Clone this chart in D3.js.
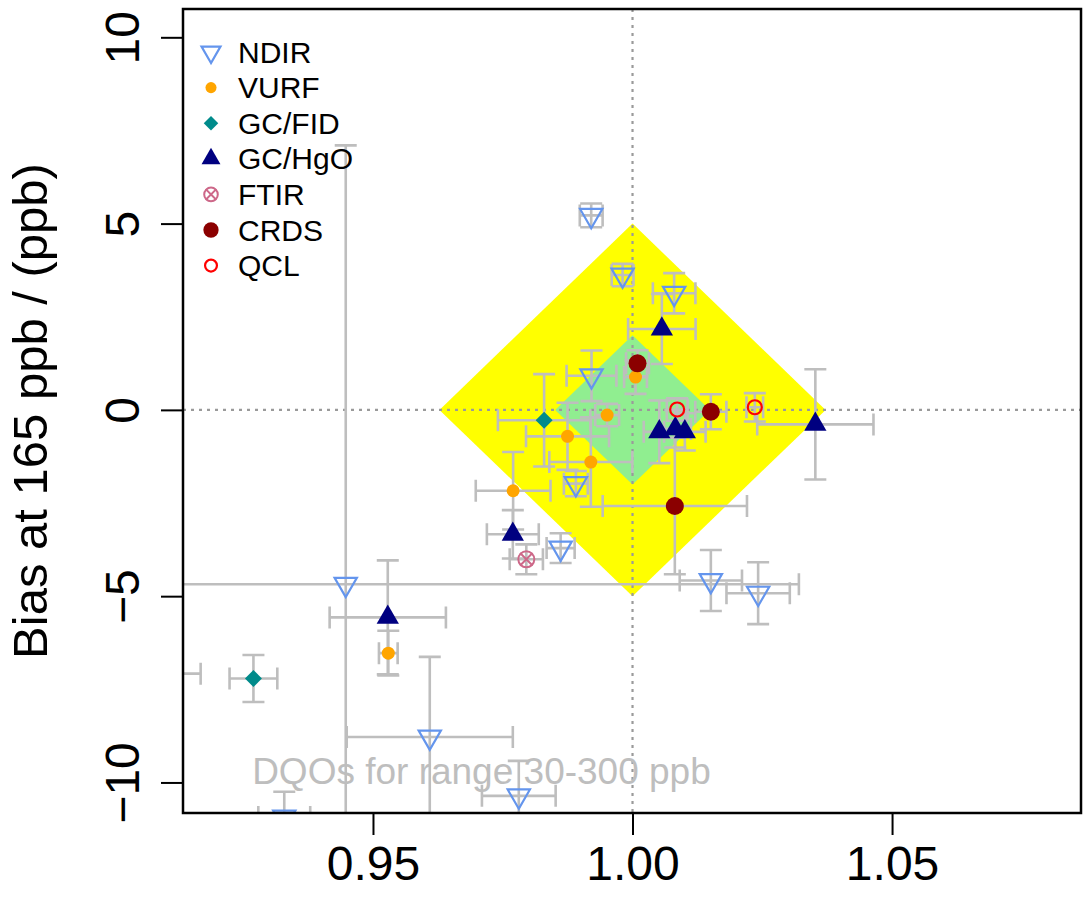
<!DOCTYPE html>
<html>
<head>
<meta charset="utf-8">
<script src="https://cdn.jsdelivr.net/npm/d3@7"></script>
<style>
    body {margin: 0; background: #fff;}
    svg {display: block;}
    text {font-family: "Liberation Sans", Arial, sans-serif;}
</style>
</head>
<body>
<div id="chart" style="width:1085px;height:907px"></div>
<script>
// Axis setup
const X_DOMAIN = [0.9134, 1.0864];
const Y_DOMAIN = [-10.82, 10.76];
const X_TICKS = [0.95, 1.00, 1.05];
const Y_TICKS = [-10, -5, 0, 5, 10];
const Y_LABEL = 'Bias at 165 ppb / (ppb)';

// DQO diamonds: half-width in slope, half-height in bias
const DQO_OUTER = [0.0372, 5];
const DQO_INNER = [0.0149, 2];
const DQO_TEXT = 'DQOs for range 30-300 ppb';
const DQO_TEXT_AT = [0.9709, -9.7];

// Series
const NAMES = ['NDIR', 'VURF', 'GC/FID', 'GC/HgO', 'FTIR', 'CRDS', 'QCL'];

const NDIR_X = [0.99204, 0.99809, 1.00802, 0.9921, 0.98908, 0.98615, 0.94475, 1.01509, 1.0242, 0.96094, 0.97809, 0.93291];
const NDIR_Y = [5.22, 3.62, 3.13, 0.915, -1.98, -3.71, -4.68, -4.58, -4.92, -8.78, -10.36, -10.93];
const NDIR_XERR = [0.0022, 0.0021, 0.0041, 0.0048, 0.0023, 0.0027, 0.0873, 0.006, 0.0061, 0.016, 0.0071, 0.005];
const NDIR_YERR = [0.32, 0.3, 0.54, 0.68, 0.34, 0.4, 11.78, 0.82, 0.83, 2.15, 0.94, 0.68];

const VURF_X = [1.00058, 0.99511, 0.98748, 0.99197, 0.977, 0.95295];
const VURF_Y = [0.88, -0.14, -0.71, -1.40, -2.17, -6.53];
const VURF_XERR = [0.0022, 0.0023, 0.008, 0.008, 0.0072, 0.0018];
const VURF_YERR = [0.45, 0.3, 0.9, 1.2, 1.04, 0.6];

const FID_X = [0.98297, 0.92697, 0.9055];
const FID_Y = [-0.28, -7.21, -7.08];
const FID_XERR = [0.0089, 0.0046, 0.0113];
const FID_YERR = [1.24, 0.63, 0.6];

const HGO_X = [1.00565, 1.00516, 1.00825, 1.01008, 1.03522, 0.97694, 0.95285];
const HGO_Y = [2.17, -0.59, -0.51, -0.59, -0.39, -3.34, -5.57];
const HGO_XERR = [0.0065, 0.003, 0.003, 0.004, 0.0112, 0.005, 0.0112];
const HGO_YERR = [0.94, 0.84, 0.5, 0.5, 1.48, 0.65, 1.53];

const FTIR_X = [0.97954];
const FTIR_Y = [-4.01];
const FTIR_XERR = [0.0032];
const FTIR_YERR = [0.4];

const CRDS_X = [1.00096, 1.01509, 1.00815];
const CRDS_Y = [1.25, -0.05, -2.58];
const CRDS_XERR = [0.0022, 0.003, 0.0139];
const CRDS_YERR = [0.35, 0.47, 1.83];

const QCL_X = [1.0086, 1.02356];
const QCL_Y = [0.01, 0.07];
const QCL_XERR = [0.002, 0.0016];
const QCL_YERR = [0.3, 0.38];

const STYLES = [
    {shape: 'triDown', color: '#6495ED'},
    {shape: 'dot', color: '#FFA500', r: 6.5},
    {shape: 'diamond', color: '#008B8B'},
    {shape: 'triUp', color: '#000080'},
    {shape: 'circleX', color: '#CD6889'},
    {shape: 'dot', color: '#8B0000', r: 9},
    {shape: 'ring', color: '#FF0000'},
];

function zip(xs, ys, xe, ye) {
    return xs.map(function (x, i) {
        return {x: x, y: ys[i], xerr: xe[i], yerr: ye[i]};
    });
}

const SERIES = [
    zip(NDIR_X, NDIR_Y, NDIR_XERR, NDIR_YERR),
    zip(VURF_X, VURF_Y, VURF_XERR, VURF_YERR),
    zip(FID_X, FID_Y, FID_XERR, FID_YERR),
    zip(HGO_X, HGO_Y, HGO_XERR, HGO_YERR),
    zip(FTIR_X, FTIR_Y, FTIR_XERR, FTIR_YERR),
    zip(CRDS_X, CRDS_Y, CRDS_XERR, CRDS_YERR),
    zip(QCL_X, QCL_Y, QCL_XERR, QCL_YERR),
].map(function (points, i) {
    return {name: NAMES[i], style: STYLES[i], points: points};
});

// Draw one marker centred on the current origin of g
function addSymbol(g, style, scale) {
    let k = scale || 1;
    let c = style.color;
    if (style.shape === 'triDown' || style.shape === 'triUp') {
        let p = g.append('path')
            .attr('d', d3.symbol().type(d3.symbolTriangle).size(215 * k * k)());
        if (style.shape === 'triDown') {
            p.attr('transform', 'rotate(180)')
                .attr('fill', 'none')
                .attr('stroke', c)
                .attr('stroke-width', 2.2);
        } else {
            p.attr('fill', c);
        }
    } else if (style.shape === 'dot') {
        g.append('circle').attr('r', style.r * k).attr('fill', c);
    } else if (style.shape === 'diamond') {
        let r = 8.5 * k;
        g.append('path')
            .attr('d', 'M0,' + (-r) + 'L' + r + ',0L0,' + r + 'L' + (-r) + ',0Z')
            .attr('fill', c);
    } else if (style.shape === 'ring') {
        g.append('circle').attr('r', 7 * k)
            .attr('fill', 'none').attr('stroke', c).attr('stroke-width', 2.2);
    } else if (style.shape === 'circleX') {
        let r = 8 * k, s = 6.2 * k;
        g.append('circle').attr('r', r)
            .attr('fill', 'none').attr('stroke', c).attr('stroke-width', 2);
        g.append('path')
            .attr('d', 'M' + (-s) + ',' + (-s) + 'L' + s + ',' + s + 'M' + (-s) + ',' + s + 'L' + s + ',' + (-s))
            .attr('stroke', c).attr('stroke-width', 2);
    }
}

function BiasSlopeChart(options = {}) {
    let {containerId, margin} = options;
    let container = d3.select('#' + containerId);
    container.selectAll('*').remove();

    let _margin = Object.assign({top: 9, right: 4, bottom: 94, left: 183}, margin || {});
    let node = container.node().getBoundingClientRect();
    let width = node.width - _margin.left - _margin.right;
    let height = node.height - _margin.top - _margin.bottom;

    let root = container.append('svg')
        .attr('width', node.width)
        .attr('height', node.height);
    let svg = root.append('g')
        .attr('transform', 'translate(' + _margin.left + ',' + _margin.top + ')');

    let x = d3.scaleLinear().domain(X_DOMAIN).range([0, width]);
    let y = d3.scaleLinear().domain(Y_DOMAIN).range([height, 0]);

    // Clip path for the plot region
    svg.append('defs').append('clipPath')
        .attr('id', 'clip')
        .append('rect')
        .attr('width', width)
        .attr('height', height);
    let plot = svg.append('g').attr('clip-path', 'url(#clip)');

    // DQO diamonds
    function diamond(half) {
        return [[1 - half[0], 0], [1, half[1]], [1 + half[0], 0], [1, -half[1]]]
            .map(function (d) {
                return [x(d[0]), y(d[1])];
            });
    }
    plot.append('polygon')
        .attr('points', diamond(DQO_OUTER).join(' '))
        .attr('fill', '#FFFF00');
    plot.append('polygon')
        .attr('points', diamond(DQO_INNER).join(' '))
        .attr('fill', '#90EE90');

    // Reference lines
    plot.append('line')
        .attr('x1', x(1)).attr('x2', x(1))
        .attr('y1', 0).attr('y2', height)
        .attr('stroke', '#9A9A9A').attr('stroke-width', 2.2)
        .attr('stroke-dasharray', '3,5');
    plot.append('line')
        .attr('x1', 0).attr('x2', width)
        .attr('y1', y(0)).attr('y2', y(0))
        .attr('stroke', '#9A9A9A').attr('stroke-width', 2.2)
        .attr('stroke-dasharray', '3,5');

    plot.append('text')
        .attr('x', x(DQO_TEXT_AT[0]))
        .attr('y', y(DQO_TEXT_AT[1]))
        .attr('text-anchor', 'middle')
        .attr('dominant-baseline', 'central')
        .attr('font-size', 37)
        .attr('fill', '#BEBEBE')
        .text(DQO_TEXT);

    // Error bars
    let cap = 11;
    let bars = plot.append('g')
        .attr('stroke', '#BEBEBE')
        .attr('stroke-width', 2.6)
        .attr('fill', 'none');
    SERIES.forEach(function (s) {
        s.points.forEach(function (d) {
            let px = x(d.x), py = y(d.y);
            let x0 = x(d.x - d.xerr), x1 = x(d.x + d.xerr);
            let y0 = y(d.y - d.yerr), y1 = y(d.y + d.yerr);
            bars.append('path').attr('d',
                'M' + x0 + ',' + py + 'H' + x1 +
                'M' + x0 + ',' + (py - cap) + 'V' + (py + cap) +
                'M' + x1 + ',' + (py - cap) + 'V' + (py + cap) +
                'M' + px + ',' + y0 + 'V' + y1 +
                'M' + (px - cap) + ',' + y0 + 'H' + (px + cap) +
                'M' + (px - cap) + ',' + y1 + 'H' + (px + cap));
        });
    });

    // Points
    SERIES.forEach(function (s) {
        s.points.forEach(function (d) {
            let g = plot.append('g')
                .attr('transform', 'translate(' + x(d.x) + ',' + y(d.y) + ')');
            addSymbol(g, s.style);
        });
    });

    // Add X axis
    let xAxis = svg.append('g')
        .attr('transform', 'translate(0,' + height + ')')
        .call(d3.axisBottom(x).tickValues(X_TICKS).tickFormat(d3.format('.2f'))
            .tickSize(22).tickPadding(12));
    xAxis.select('.domain').remove();
    xAxis.selectAll('line').attr('stroke', '#000').attr('stroke-width', 2);
    xAxis.selectAll('text')
        .attr('font-size', 48)
        .attr('fill', '#000')
        .attr('font-family', '"Liberation Sans", Arial, sans-serif')
        .attr('dy', null)
        .attr('y', 67);

    // Add Y axis
    let yAxis = svg.append('g')
        .call(d3.axisLeft(y).tickValues(Y_TICKS).tickSize(22));
    yAxis.select('.domain').remove();
    yAxis.selectAll('line').attr('stroke', '#000').attr('stroke-width', 2);
    yAxis.selectAll('text')
        .attr('font-size', 48)
        .attr('fill', '#000')
        .attr('font-family', '"Liberation Sans", Arial, sans-serif')
        .attr('x', null).attr('dy', null)
        .attr('text-anchor', 'middle')
        .attr('transform', 'translate(-44,0) rotate(-90)');

    // Box
    svg.append('rect')
        .attr('width', width)
        .attr('height', height)
        .attr('fill', 'none')
        .attr('stroke', '#000')
        .attr('stroke-width', 2.5);

    // Y label
    svg.append('text')
        .attr('transform', 'translate(' + (47 - _margin.left) + ',' + (height / 2) + ') rotate(-90)')
        .attr('text-anchor', 'middle')
        .attr('font-size', 49)
        .text(Y_LABEL);

    // Legend
    let legend = svg.append('g').attr('transform', 'translate(28,43)');
    SERIES.forEach(function (s, i) {
        let row = legend.append('g').attr('transform', 'translate(0,' + (i * 35.6) + ')');
        addSymbol(row.append('g'), s.style, 0.85);
        row.append('text')
            .attr('x', 27)
            .attr('dominant-baseline', 'central')
            .attr('font-size', 30)
            .text(s.name);
    });
}

BiasSlopeChart({containerId: 'chart'});
</script>
</body>
</html>
